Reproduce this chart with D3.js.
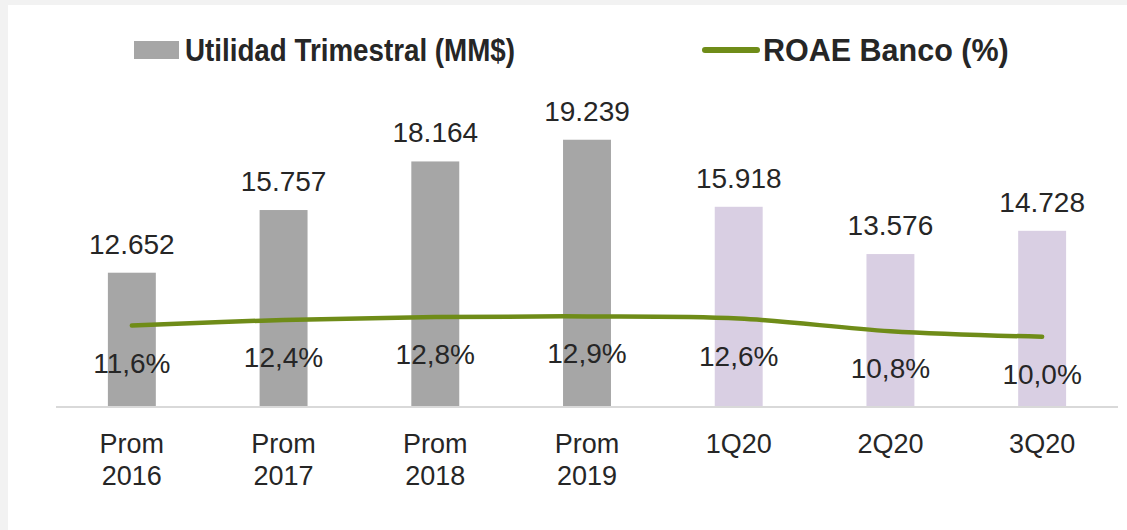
<!DOCTYPE html>
<html>
<head>
<meta charset="utf-8">
<script src="https://cdn.jsdelivr.net/npm/d3@7"></script>
<style>
  body { margin: 0; background: #f2f2f2; }
  svg { display: block; font-family: "Liberation Sans", Arial, sans-serif; }
</style>
</head>
<body>
<div id="chart"></div>
<script>

var categories = [["Prom", "2016"], ["Prom", "2017"], ["Prom", "2018"], ["Prom", "2019"], ["1Q20"], ["2Q20"], ["3Q20"]];
var utilidad = [12652, 15757, 18164, 19239, 15918, 13576, 14728];
var roae = [11.6, 12.4, 12.8, 12.9, 12.6, 10.8, 10.0];
var barLabels = ["12.652", "15.757", "18.164", "19.239", "15.918", "13.576", "14.728"];
var roaeLabels = ["11,6%", "12,4%", "12,8%", "12,9%", "12,6%", "10,8%", "10,0%"];
var isQuarter = [false, false, false, false, true, true, true];

var W = 1127, H = 530;
var baseY = 407, topY = 84;

var svg = d3.select("#chart")
  .append("svg")
    .attr("width", W)
    .attr("height", H);

// white panel over the grey page
svg.append("rect")
  .attr("x", 8).attr("y", 5)
  .attr("width", W - 8).attr("height", H - 5)
  .attr("fill", "#ffffff");

var idx = d3.range(categories.length);

var x = d3.scaleBand()
  .domain(idx)
  .range([56, 1118]);

var barW = x.bandwidth() * 0.316;

// primary axis (bars) does not start at zero
var y = d3.scaleLinear().domain([6000, 22000]).range([baseY, topY]);
// secondary axis (line)
var y2 = d3.scaleLinear().domain([0, 46]).range([baseY, topY]);

function cx(i) { return x(i) + x.bandwidth() / 2; }

// bars
svg.selectAll(".bar")
  .data(idx)
  .enter()
  .append("rect")
    .attr("class", "bar")
    .attr("x", function(i) { return cx(i) - barW / 2; })
    .attr("y", function(i) { return y(utilidad[i]); })
    .attr("width", barW)
    .attr("height", function(i) { return baseY - y(utilidad[i]); })
    .attr("fill", function(i) { return isQuarter[i] ? "#d9cfe3" : "#a6a6a6"; });

// x axis line
svg.append("line")
  .attr("x1", x.range()[0]).attr("x2", x.range()[1])
  .attr("y1", baseY).attr("y2", baseY)
  .attr("stroke", "#d9d9d9")
  .attr("stroke-width", 2);

// bar value labels
svg.selectAll(".barlab")
  .data(idx)
  .enter()
  .append("text")
    .attr("class", "barlab")
    .attr("x", cx)
    .attr("y", function(i) { return y(utilidad[i]) - 19; })
    .attr("text-anchor", "middle")
    .attr("font-size", 28)
    .attr("fill", "#262626")
    .text(function(i) { return barLabels[i]; });

// ROAE line (smoothed)
svg.append("path")
  .datum(idx)
  .attr("d", d3.line()
    .x(cx)
    .y(function(i) { return y2(roae[i]); })
    .curve(d3.curveCatmullRom.alpha(0)))
  .attr("fill", "none")
  .attr("stroke", "#6f8c18")
  .attr("stroke-width", 4.5)
  .attr("stroke-linecap", "round");

// ROAE labels
svg.selectAll(".roaelab")
  .data(idx)
  .enter()
  .append("text")
    .attr("class", "roaelab")
    .attr("x", cx)
    .attr("y", function(i) { return y2(roae[i]) + 47; })
    .attr("text-anchor", "middle")
    .attr("font-size", 28)
    .attr("fill", "#262626")
    .text(function(i) { return roaeLabels[i]; });

// category labels
var cat = svg.selectAll(".cat")
  .data(idx)
  .enter()
  .append("text")
    .attr("class", "cat")
    .attr("text-anchor", "middle")
    .attr("font-size", 27)
    .attr("fill", "#262626");

cat.selectAll("tspan")
  .data(function(i) { return categories[i].map(function(t) { return {t: t, i: i}; }); })
  .enter()
  .append("tspan")
    .attr("x", function(d) { return cx(d.i); })
    .attr("y", function(d, j) { return 453 + j * 32; })
    .text(function(d) { return d.t; });

// legend
var leg = svg.append("g");
leg.append("rect")
  .attr("x", 134).attr("y", 41)
  .attr("width", 45).attr("height", 18)
  .attr("fill", "#a6a6a6");
leg.append("text")
  .attr("x", 185).attr("y", 61)
  .attr("font-size", 31)
  .attr("font-weight", "bold")
  .attr("fill", "#262626")
  .attr("textLength", 330)
  .attr("lengthAdjust", "spacingAndGlyphs")
  .text("Utilidad Trimestral (MM$)");

leg.append("line")
  .attr("x1", 705).attr("x2", 757)
  .attr("y1", 50).attr("y2", 50)
  .attr("stroke", "#6f8c18")
  .attr("stroke-width", 6)
  .attr("stroke-linecap", "round");
leg.append("text")
  .attr("x", 763).attr("y", 61)
  .attr("font-size", 30.5)
  .attr("font-weight", "bold")
  .attr("fill", "#262626")
  .text("ROAE Banco (%)");

</script>
</body>
</html>
